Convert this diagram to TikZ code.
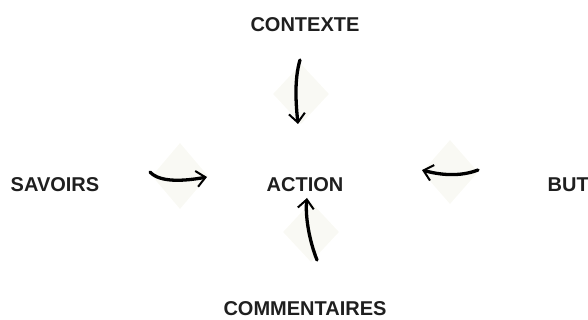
\documentclass[tikz,border=0pt]{standalone}
\usepackage{fontspec}
\setmainfont{Liberation Sans}
\usetikzlibrary{positioning, arrows.meta, shapes.geometric}
\definecolor{padcream}{RGB}{249,249,244}
\tikzset{
  word/.style={
    font=\bfseries\fontsize{20}{24}\selectfont,
    inner sep=0pt,
    text=black!88
  },
  pad/.style={
    diamond,
    fill=padcream,
    inner sep=0pt,
    minimum width=56pt,
    minimum height=60pt
  },
  brush/.style={
    line width=3.3pt,
    line cap=round,
    -{Straight Barb[length=9pt, width=16pt, line width=2pt]}
  }
}

\begin{document}
\begin{tikzpicture}[x=1pt, y=1pt]
    \useasboundingbox (-305,-135) rectangle (283,185);

    % soft pads behind the arrows
    \node[pad] (padctx) at (-4,91) {};
    \node[pad, minimum height=66pt] (padsav) at (-125,9) {};
    \node[pad, minimum height=64pt] (padbut) at (145,13) {};
    \node[pad] (padcom) at (6,-47) {};

    \node[word] (action) at (0,0) {ACTION};
    \node[word, above=146pt of action] (contexte) {CONTEXTE};
    \node[word, left=167pt of action] (savoirs) {SAVOIRS};
    \node[word, right=204pt of action] (but) {BUT};
    \node[word, below=109pt of action] (comment) {COMMENTAIRES};

    \coordinate (ctxfrom) at (-5,125);
    \coordinate (ctxto) at (-7,61);
    \coordinate (savfrom) at (-155,13);
    \coordinate (savto) at (-98,8);
    \coordinate (butfrom) at (173,15);
    \coordinate (butto) at (117,15);
    \coordinate (comfrom) at (12,-75);
    \coordinate (comto) at (2,-13);

    \draw[brush] (ctxfrom) .. controls (-11,105) and (-9,80) .. (ctxto);
    \draw[brush] (savfrom) .. controls (-145,2) and (-120,4) .. (savto);
    \draw[brush] (butfrom) .. controls (155,8) and (135,10) .. (butto);
    \draw[brush] (comfrom) .. controls (4,-55) and (0,-30) .. (comto);
\end{tikzpicture}
\end{document}
